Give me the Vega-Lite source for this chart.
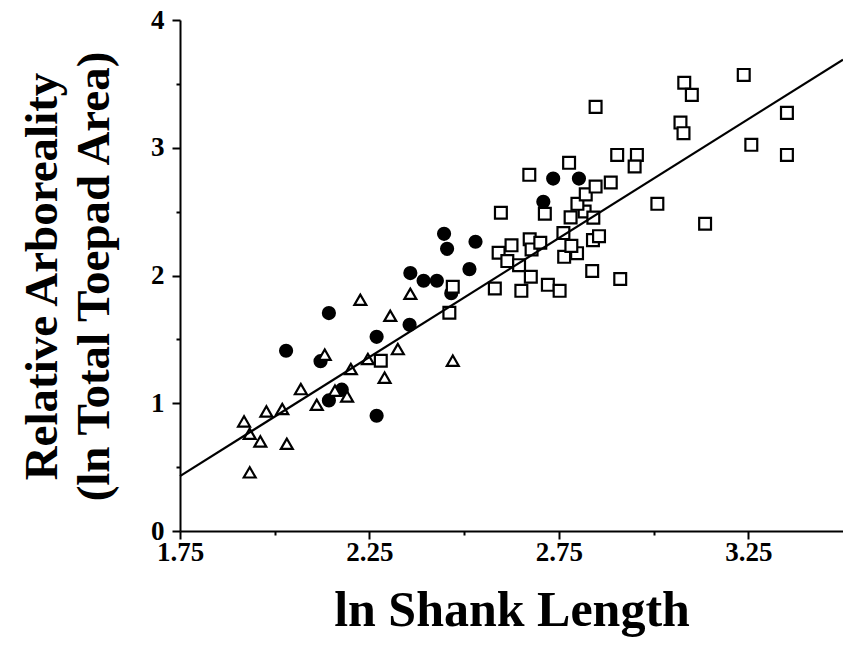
{
  "$schema": "https://vega.github.io/schema/vega-lite/v6.json",
  "width": 663,
  "height": 511,
  "autosize": {"type": "none"},
  "padding": {"left": 180, "top": 20, "right": 0, "bottom": 119},
  "background": "white",
  "config": {
    "view": {"stroke": null},
    "font": "Liberation Serif",
    "axis": {"grid": false}
  },
  "datasets": {
    "points": [
      {"g": "circle", "x": 2.030, "y": 1.411},
      {"g": "circle", "x": 2.121, "y": 1.329},
      {"g": "circle", "x": 2.143, "y": 1.706},
      {"g": "circle", "x": 2.143, "y": 1.022},
      {"g": "circle", "x": 2.177, "y": 1.106},
      {"g": "circle", "x": 2.269, "y": 1.520},
      {"g": "circle", "x": 2.269, "y": 0.902},
      {"g": "circle", "x": 2.356, "y": 1.614},
      {"g": "circle", "x": 2.358, "y": 2.019},
      {"g": "circle", "x": 2.393, "y": 1.959},
      {"g": "circle", "x": 2.428, "y": 1.959},
      {"g": "circle", "x": 2.447, "y": 2.326},
      {"g": "circle", "x": 2.455, "y": 2.209},
      {"g": "circle", "x": 2.466, "y": 1.862},
      {"g": "circle", "x": 2.514, "y": 2.050},
      {"g": "circle", "x": 2.530, "y": 2.264},
      {"g": "circle", "x": 2.709, "y": 2.577},
      {"g": "circle", "x": 2.735, "y": 2.759},
      {"g": "circle", "x": 2.803, "y": 2.759},
      {"g": "triangle", "x": 1.919, "y": 0.858},
      {"g": "triangle", "x": 1.934, "y": 0.761},
      {"g": "triangle", "x": 1.962, "y": 0.701},
      {"g": "triangle", "x": 1.934, "y": 0.459},
      {"g": "triangle", "x": 1.978, "y": 0.936},
      {"g": "triangle", "x": 2.020, "y": 0.955},
      {"g": "triangle", "x": 2.032, "y": 0.683},
      {"g": "triangle", "x": 2.069, "y": 1.111},
      {"g": "triangle", "x": 2.132, "y": 1.380},
      {"g": "triangle", "x": 2.111, "y": 0.988},
      {"g": "triangle", "x": 2.159, "y": 1.098},
      {"g": "triangle", "x": 2.191, "y": 1.053},
      {"g": "triangle", "x": 2.201, "y": 1.268},
      {"g": "triangle", "x": 2.226, "y": 1.810},
      {"g": "triangle", "x": 2.246, "y": 1.346},
      {"g": "triangle", "x": 2.290, "y": 1.200},
      {"g": "triangle", "x": 2.305, "y": 1.685},
      {"g": "triangle", "x": 2.325, "y": 1.424},
      {"g": "triangle", "x": 2.358, "y": 1.857},
      {"g": "triangle", "x": 2.470, "y": 1.333},
      {"g": "square", "x": 2.280, "y": 1.333},
      {"g": "square", "x": 2.461, "y": 1.708},
      {"g": "square", "x": 2.470, "y": 1.912},
      {"g": "square", "x": 2.581, "y": 1.898},
      {"g": "square", "x": 2.651, "y": 1.880},
      {"g": "square", "x": 2.721, "y": 1.927},
      {"g": "square", "x": 2.752, "y": 1.880},
      {"g": "square", "x": 2.838, "y": 2.035},
      {"g": "square", "x": 2.912, "y": 1.973},
      {"g": "square", "x": 2.591, "y": 2.178},
      {"g": "square", "x": 2.614, "y": 2.113},
      {"g": "square", "x": 2.645, "y": 2.081},
      {"g": "square", "x": 2.676, "y": 1.990},
      {"g": "square", "x": 2.625, "y": 2.236},
      {"g": "square", "x": 2.673, "y": 2.283},
      {"g": "square", "x": 2.678, "y": 2.204},
      {"g": "square", "x": 2.701, "y": 2.256},
      {"g": "square", "x": 2.762, "y": 2.332},
      {"g": "square", "x": 2.764, "y": 2.146},
      {"g": "square", "x": 2.798, "y": 2.175},
      {"g": "square", "x": 2.783, "y": 2.232},
      {"g": "square", "x": 2.840, "y": 2.277},
      {"g": "square", "x": 2.856, "y": 2.308},
      {"g": "square", "x": 2.597, "y": 2.491},
      {"g": "square", "x": 2.713, "y": 2.483},
      {"g": "square", "x": 2.781, "y": 2.455},
      {"g": "square", "x": 2.818, "y": 2.501},
      {"g": "square", "x": 2.841, "y": 2.453},
      {"g": "square", "x": 2.799, "y": 2.561},
      {"g": "square", "x": 2.672, "y": 2.788},
      {"g": "square", "x": 2.777, "y": 2.882},
      {"g": "square", "x": 2.821, "y": 2.635},
      {"g": "square", "x": 2.847, "y": 2.696},
      {"g": "square", "x": 2.887, "y": 2.728},
      {"g": "square", "x": 2.847, "y": 3.320},
      {"g": "square", "x": 2.904, "y": 2.944},
      {"g": "square", "x": 2.956, "y": 2.944},
      {"g": "square", "x": 2.950, "y": 2.853},
      {"g": "square", "x": 3.010, "y": 2.561},
      {"g": "square", "x": 3.136, "y": 2.405},
      {"g": "square", "x": 3.071, "y": 3.197},
      {"g": "square", "x": 3.079, "y": 3.114},
      {"g": "square", "x": 3.081, "y": 3.509},
      {"g": "square", "x": 3.101, "y": 3.414},
      {"g": "square", "x": 3.238, "y": 3.570},
      {"g": "square", "x": 3.258, "y": 3.023},
      {"g": "square", "x": 3.352, "y": 3.273},
      {"g": "square", "x": 3.352, "y": 2.944}
    ],
    "fit": [
      {"x": 1.75, "y": 0.43},
      {"x": 3.5, "y": 3.69}
    ]
  },
  "layer": [
    {
      "data": {"name": "points"},
      "mark": {"type": "point", "filled": false, "stroke": "black", "strokeWidth": 2.2, "opacity": 1, "fillOpacity": 1},
      "encoding": {
        "x": {
          "field": "x", "type": "quantitative",
          "scale": {"domain": [1.75, 3.5], "nice": false, "zero": false},
          "axis": {
            "title": "ln Shank Length",
            "grid": false,
            "values": [1.75, 2, 2.25, 2.5, 2.75, 3, 3.25],
            "labelExpr": "abs((datum.value - 1.75) / 0.5 - round((datum.value - 1.75) / 0.5)) < 0.01 ? format(datum.value, '.2f') : ''",
            "domainColor": "black", "domainWidth": 2,
            "tickColor": "black", "tickWidth": 2,
            "tickSize": {"condition": {"test": "abs((datum.value - 1.75) / 0.5 - round((datum.value - 1.75) / 0.5)) < 0.01", "value": 8}, "value": 4},
            "labelFont": "Liberation Serif", "labelFontWeight": "bold", "labelFontSize": 27, "labelColor": "black",
            "labelPadding": 0, "labelOverlap": false, "labelFlush": false,
            "titleFont": "Liberation Serif", "titleFontWeight": "bold", "titleFontSize": 50, "titleColor": "black",
            "titlePadding": 20
          }
        },
        "y": {
          "field": "y", "type": "quantitative",
          "scale": {"domain": [0, 4], "nice": false},
          "axis": {
            "title": ["Relative Arboreality", "(ln Total Toepad Area)"],
            "grid": false,
            "values": [0, 0.5, 1, 1.5, 2, 2.5, 3, 3.5, 4],
            "labelExpr": "datum.value % 1 === 0 ? format(datum.value, 'd') : ''",
            "domainColor": "black", "domainWidth": 2,
            "tickColor": "black", "tickWidth": 2,
            "tickSize": {"condition": {"test": "datum.value % 1 === 0", "value": 8}, "value": 4},
            "labelFont": "Liberation Serif", "labelFontWeight": "bold", "labelFontSize": 27, "labelColor": "black",
            "labelPadding": 8, "labelOverlap": false, "labelFlush": false,
            "titleFont": "Liberation Serif", "titleFontWeight": "bold", "titleFontSize": 47, "titleColor": "black",
            "titleAngle": -90, "titleBaseline": "middle", "titleAlign": "center",
            "titleX": -138, "titleY": 256, "titleLineHeight": 52
          }
        },
        "shape": {
          "field": "g", "type": "nominal",
          "scale": {"domain": ["circle", "triangle", "square"], "range": ["circle", "triangle-up", "square"]},
          "legend": null
        },
        "fill": {
          "field": "g", "type": "nominal",
          "scale": {"domain": ["circle", "triangle", "square"], "range": ["black", "white", "white"]},
          "legend": null
        },
        "size": {
          "field": "g", "type": "ordinal",
          "scale": {"domain": ["circle", "triangle", "square"], "range": [144, 140, 121]},
          "legend": null
        }
      }
    },
    {
      "data": {"name": "fit"},
      "mark": {"type": "line", "color": "black", "strokeWidth": 2.2},
      "encoding": {
        "x": {"field": "x", "type": "quantitative"},
        "y": {"field": "y", "type": "quantitative"}
      }
    }
  ]
}
